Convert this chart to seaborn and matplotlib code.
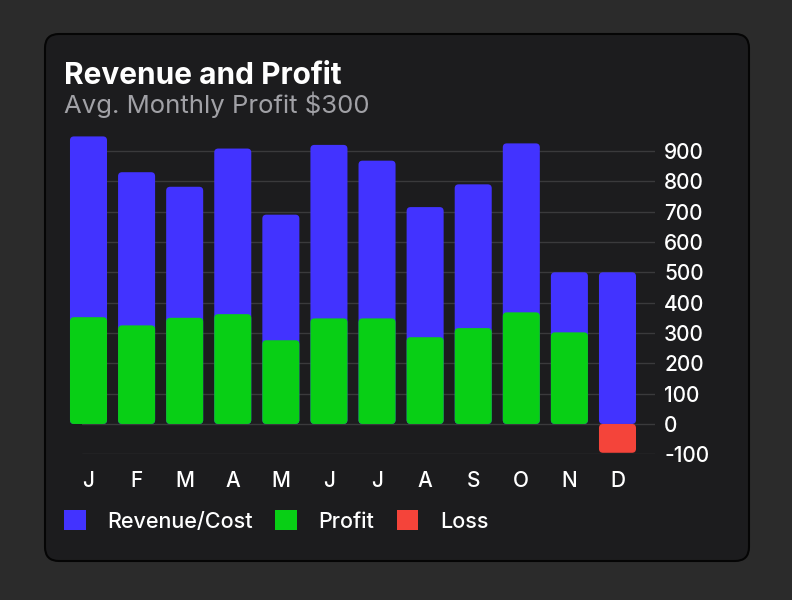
import numpy as np
import pandas as pd
import seaborn as sns
from matplotlib import pyplot as plt
from matplotlib.patches import FancyBboxPatch, Patch

months = ['J', 'F', 'M', 'A', 'M', 'J', 'J', 'A', 'S', 'O', 'N', 'D']
revenue = [948, 830, 782, 908, 690, 920, 868, 715, 790, 925, 500, 500]
profit = [352, 325, 350, 362, 276, 348, 348, 286, 316, 368, 302, -95]

blue = '#4233ff'
green = '#08cf15'
red = '#f4443a'
card_bg = '#1c1c1e'
grid_col = '#3a3a3c'

# long table: revenue bars plus profit/loss bars drawn over them
rows = []
for i, (r, p) in enumerate(zip(revenue, profit)):
    rows.append({'pos': i, 'value': r, 'kind': 'Revenue/Cost'})
    rows.append({'pos': i, 'value': p, 'kind': 'Profit' if p >= 0 else 'Loss'})
df = pd.DataFrame(rows)

sns.set_style('dark')
plt.rcParams['font.family'] = ['Inter', 'DejaVu Sans']
plt.rcParams['axes.unicode_minus'] = False

fig = plt.figure(figsize=(7.92, 6), dpi=100)
fig.patch.set_facecolor('#2b2b2b')

# card behind everything
card = FancyBboxPatch((0.45, 0.39), 7.04, 5.27, boxstyle='round,pad=0,rounding_size=0.14',
                      transform=fig.dpi_scale_trans, facecolor=card_bg, edgecolor='#050505',
                      linewidth=1.5, zorder=-5)
fig.patches.append(card)

ax = fig.add_axes([82 / 792, 145.7 / 600, (655 - 82) / 792, 318.5 / 600])
ax.set_facecolor('none')
ax.set_zorder(2)

sns.barplot(data=df, x='pos', y='value', hue='kind', dodge=False, width=0.77,
            hue_order=['Revenue/Cost', 'Profit', 'Loss'],
            palette={'Revenue/Cost': blue, 'Profit': green, 'Loss': red},
            legend=False, ax=ax, saturation=1, zorder=3)

# swap the plain bars for rounded ones
ax.set_xlim(-0.135, 11.78)
ax.set_ylim(-100, 950)
xs_per_px = (11.78 + 0.135) / (655 - 82)
ys_per_px = 1050 / 318.5
old = list(ax.patches)
for b in old:
    h = b.get_height()
    if not np.isfinite(h) or h == 0:
        b.remove()
        continue
    x, y, w = b.get_x(), b.get_y(), b.get_width()
    y0 = min(y, y + h)
    rs = 4 * xs_per_px
    fb = FancyBboxPatch((x, y0), w, abs(h), boxstyle=f'round,pad=0,rounding_size={rs}',
                        mutation_aspect=ys_per_px / xs_per_px,
                        facecolor=b.get_facecolor(), edgecolor='none', zorder=3, clip_on=False)
    b.remove()
    ax.add_patch(fb)

ax.set_xticks(range(len(months)))
ax.set_xticklabels(months)
ax.set_yticks(range(-100, 1000, 100))
ax.yaxis.tick_right()
ax.tick_params(axis='y', length=0, pad=6.5, labelsize=15, labelcolor='white')
ax.tick_params(axis='x', length=0, pad=12, labelsize=15, labelcolor='white')
for lbl in ax.get_xticklabels() + ax.get_yticklabels():
    lbl.set_fontweight('medium')
ax.grid(axis='y', color=grid_col, linewidth=1, zorder=0)
ax.grid(axis='x', visible=False)
ax.set_xlabel('')
ax.set_ylabel('')
for s in ax.spines.values():
    s.set_visible(False)

fig.text(64 / 792, (600 - 84) / 600, 'Revenue and Profit', color='white',
         fontsize=21.5, fontweight='bold', va='baseline', ha='left')
fig.text(64 / 792, (600 - 113) / 600, 'Avg. Monthly Profit \\$300', color='#a1a1a6',
         fontsize=18.5, va='baseline', ha='left')

handles = [Patch(facecolor=c, edgecolor='none') for c in (blue, green, red)]
leg = fig.legend(handles, ['Revenue/Cost', 'Profit', 'Loss'], ncol=3, frameon=False,
                 loc='center left', bbox_to_anchor=(64 / 792, (600 - 521) / 600),
                 borderaxespad=0, borderpad=0,
                 fontsize=15.5, handlelength=1.0, handleheight=1.0, handletextpad=1.0,
                 columnspacing=1.05, labelcolor='white')
for t in leg.get_texts():
    t.set_fontweight('medium')

plt.savefig('out.png', dpi=100, facecolor=fig.get_facecolor())
